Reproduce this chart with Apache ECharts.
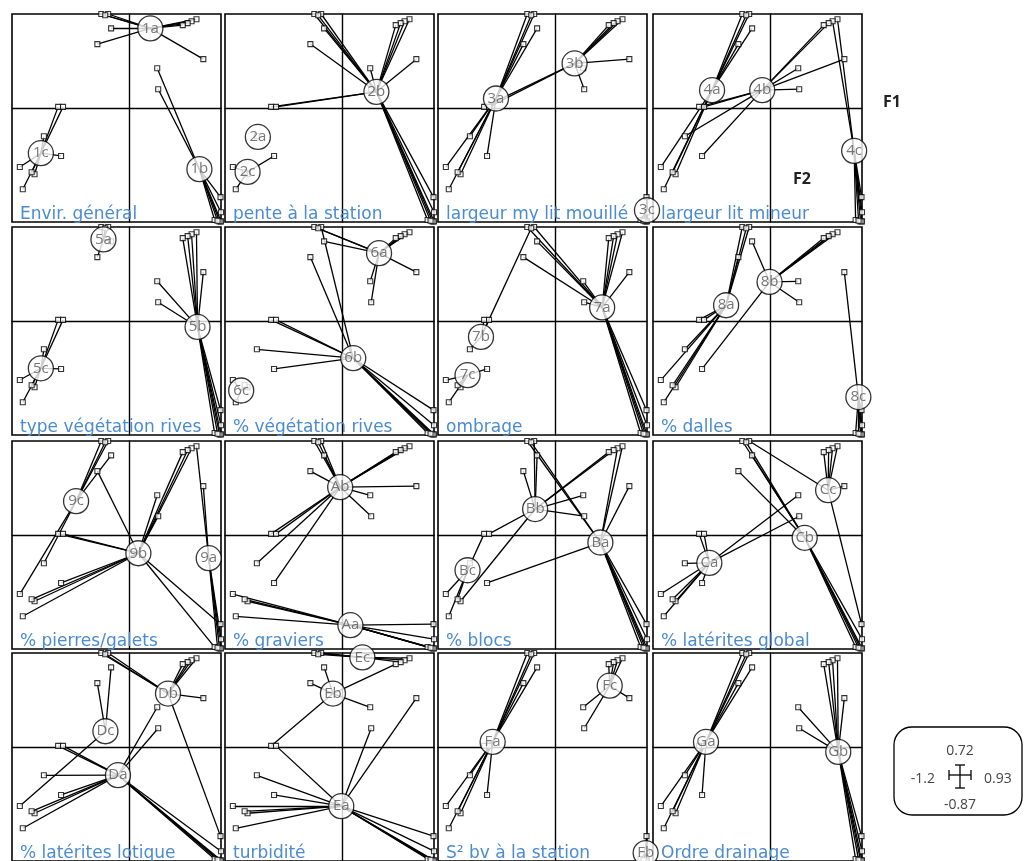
<!DOCTYPE html>
<html>
<head>
<meta charset="utf-8">
<script src="https://cdn.jsdelivr.net/npm/echarts@6/dist/echarts.min.js"></script>
<style>
html, body { margin: 0; background: #fff; }
#chart { width: 1029px; height: 861px; }
</style>
</head>
<body>
<div id="chart"></div>
<script>
// axis limits (F1 horizontal, F2 vertical)
const xRange = [-1.2, 0.93]
const yRange = [-0.87, 0.72]

// site scores on F1 / F2 (same sites in every panel)
const siteX = [-0.29, -0.22, -0.25, -0.19, -0.33,
  0.68, 0.63, 0.59, 0.54, 0.75, 0.28, 0.29,
  -0.73, -0.68, -0.875, -0.70, -1.12, -0.97, -1.0, -1.09,
  0.925, 0.865, 0.93, 0.915, 0.895, 0.93]
const siteY = [0.72, 0.72, 0.71, 0.61, 0.49,
  0.68, 0.665, 0.65, 0.635, 0.375, 0.305, 0.145,
  0.01, 0.01, -0.215, -0.365, -0.45, -0.505, -0.49, -0.62,
  -0.68, -0.855, -0.865, -0.865, -0.86, -0.795]

const titles = ['Envir. général', 'pente à la station', 'largeur my lit mouillé', 'largeur lit mineur',
  'type végétation rives', '% végétation rives', 'ombrage', '% dalles',
  '% pierres/galets', '% graviers', '% blocs', '% latérites global',
  '% latérites lotique', 'turbidité', 'S² bv à la station', 'Ordre drainage']

// class centroids per panel
const groupNames = [['1a', '1b', '1c'], ['2a', '2b', '2c'], ['3a', '3b', '3c'], ['4a', '4b', '4c'],
  ['5a', '5b', '5c'], ['6a', '6b', '6c'], ['7a', '7b', '7c'], ['8a', '8b', '8c'],
  ['9a', '9b', '9c'], ['Aa', 'Ab'], ['Ba', 'Bb', 'Bc'], ['Ca', 'Cb', 'Cc'],
  ['Da', 'Db', 'Dc'], ['Ea', 'Eb', 'Ec'], ['Fa', 'Fb', 'Fc'], ['Ga', 'Gb']]
const groupX = [[0.21, 0.71, -0.906], [-0.865, 0.343, -0.97], [-0.609, 0.192, 0.93], [-0.598, -0.087, 0.85],
  [-0.268, 0.691, -0.906], [0.37, 0.107, -1.035], [0.473, -0.762, -0.899], [-0.455, -0.012, 0.893],
  [0.805, 0.088, -0.547], [0.078, -0.026], [0.455, -0.21, -0.899], [-0.626, 0.346, 0.585],
  [-0.12, 0.39, -0.248], [-0.015, -0.1, 0.2], [-0.643, 0.916, 0.55], [-0.66, 0.688]]
const groupY = [[0.61, -0.466, -0.344], [-0.22, 0.125, -0.487], [0.074, 0.342, -0.78], [0.138, 0.138, -0.326],
  [0.625, -0.044, -0.36], [0.52, -0.283, -0.53], [0.105, -0.12, -0.413], [0.122, 0.30, -0.58],
  [-0.176, -0.138, 0.26], [-0.688, 0.367], [-0.056, 0.2, -0.268], [-0.212, -0.02, 0.344],
  [-0.214, 0.41, 0.122], [-0.451, 0.41, 0.686], [0.04, -0.81, 0.47], [0.04, -0.036]]

// class of each site in each panel (last letter of the class name)
const membership = [
  'aaaaa' + 'aaaaabb' + 'cccccccc' + 'bbbbbb',
  'bbbbb' + 'bbbbbbb' + 'bbaccccc' + 'bbbbbb',
  'aaaaa' + 'bbbbbbb' + 'bbaaaaaa' + 'cccccc',
  'aaaaa' + 'ccbbbbb' + 'bbbbaaaa' + 'cccccc',
  'aaaaa' + 'bbbbbbb' + 'cccccccc' + 'bbbbbb',
  'abaab' + 'aaaaaaa' + 'bbbbcccc' + 'bbbbbb',
  'aabaa' + 'aaaaaaa' + 'bbbccccc' + 'aaaaaa',
  'aaaba' + 'bbbbcbb' + 'aaabaaaa' + 'cccccc',
  'ccccb' + 'abbbabb' + 'bbcbcbbb' + 'bbaaaa',
  'bbbbb' + 'bbbbbbb' + 'bbbbaaaa' + 'aaaaaa',
  'ababb' + 'aabbabb' + 'cbcacbcc' + 'aaaaaa',
  'bcbbb' + 'cccccaa' + 'aaaaaaaa' + 'cbbbbb',
  'bbbcc' + 'bbbbbaa' + 'aaaacaaa' + 'baaaaa',
  'cccbb' + 'cccbaba' + 'baaaaaaa' + 'aaaaaa',
  'aaaaa' + 'ccccccc' + 'aaaaaaaa' + 'bbbbbb',
  'aaaaa' + 'bbbbbbb' + 'aaaaaaaa' + 'bbbbbb'
]

// scale box labels
const scaleLabels = { top: '0.72', left: '-1.2', right: '0.93', bottom: '-0.87' }

const panelLeft = [12, 225, 438, 653]
const panelTop = [14, 227, 441, 653]
const panelW = 209
const panelH = 208

const grids = []
const xAxes = []
const yAxes = []
const series = []
const titleList = []

titles.forEach((t, i) => {
  const r = Math.floor(i / 4)
  const c = i % 4
  grids.push({
    left: panelLeft[c], top: panelTop[r], width: panelW, height: panelH,
    show: true, borderColor: '#000', borderWidth: 1.6, backgroundColor: 'transparent'
  })
  const axisCommon = {
    type: 'value',
    gridIndex: i,
    axisLine: { show: true, onZero: true, lineStyle: { color: '#000', width: 1.4 } },
    axisTick: { show: false },
    axisLabel: { show: false },
    splitLine: { show: false }
  }
  xAxes.push(Object.assign({ min: xRange[0], max: xRange[1] }, axisCommon))
  yAxes.push(Object.assign({ min: yRange[0], max: yRange[1] }, axisCommon))

  const names = groupNames[i]
  const find = (ch) => names.findIndex(n => n.slice(-1) === ch)
  const links = []
  const pts = []
  siteX.forEach((x, k) => {
    const g = find(membership[i][k])
    links.push({ coords: [[x, siteY[k]], [groupX[i][g], groupY[i][g]]] })
    pts.push([x, siteY[k]])
  })
  series.push({
    type: 'lines',
    coordinateSystem: 'cartesian2d',
    xAxisIndex: i,
    yAxisIndex: i,
    silent: true,
    lineStyle: { color: '#000', width: 1.3, opacity: 1 },
    data: links,
    z: 2
  })
  series.push({
    type: 'scatter',
    xAxisIndex: i,
    yAxisIndex: i,
    symbol: 'rect',
    symbolSize: 5,
    silent: true,
    itemStyle: { color: '#fff', borderColor: '#000', borderWidth: 1.1 },
    data: pts,
    z: 3
  })
  series.push({
    type: 'scatter',
    xAxisIndex: i,
    yAxisIndex: i,
    symbol: 'circle',
    symbolSize: 25,
    clip: false,
    silent: true,
    itemStyle: { color: '#fff', borderColor: '#000', borderWidth: 1.3 },
    label: {
      show: true,
      position: 'inside',
      color: '#555',
      fontSize: 15,
      fontFamily: 'Open Sans',
      formatter: (p) => p.data[2]
    },
    data: names.map((n, g) => [groupX[i][g], groupY[i][g], n]),
    z: 4
  })
  titleList.push({
    text: t,
    left: panelLeft[c] + 8,
    top: panelTop[r] + panelH - 16,
    padding: 0,
    textStyle: { color: '#4a8bd2', fontSize: 17, fontWeight: 'normal', fontFamily: 'DejaVu Sans' }
  })
})

const grey = '#444'
const option = {
  backgroundColor: '#fff',
  animation: false,
  title: titleList,
  grid: grids,
  xAxis: xAxes,
  yAxis: yAxes,
  series: series,
  graphic: [
    { type: 'text', left: 883, top: 94, style: { text: 'F1', fontSize: 16, fontWeight: 'bold', fill: '#222', fontFamily: 'Open Sans' } },
    { type: 'text', left: 793, top: 171, style: { text: 'F2', fontSize: 16, fontWeight: 'bold', fill: '#222', fontFamily: 'Open Sans' } },
    { type: 'rect', shape: { x: 894, y: 727, width: 128, height: 88, r: 18 }, style: { fill: '#fff', stroke: '#000', lineWidth: 1.3 } },
    { type: 'text', x: 960, y: 751, style: { text: scaleLabels.top, fontSize: 14, fill: grey, align: 'center', verticalAlign: 'middle', fontFamily: 'Open Sans' } },
    { type: 'text', x: 935, y: 779, style: { text: scaleLabels.left, fontSize: 14, fill: grey, align: 'right', verticalAlign: 'middle', fontFamily: 'Open Sans' } },
    { type: 'text', x: 984, y: 779, style: { text: scaleLabels.right, fontSize: 14, fill: grey, align: 'left', verticalAlign: 'middle', fontFamily: 'Open Sans' } },
    { type: 'text', x: 960, y: 805, style: { text: scaleLabels.bottom, fontSize: 14, fill: grey, align: 'center', verticalAlign: 'middle', fontFamily: 'Open Sans' } },
    { type: 'polyline', shape: { points: [[949, 775], [971, 775]] }, style: { stroke: '#000', lineWidth: 1.3 } },
    { type: 'polyline', shape: { points: [[949, 770], [949, 780]] }, style: { stroke: '#000', lineWidth: 1.3 } },
    { type: 'polyline', shape: { points: [[971, 770], [971, 780]] }, style: { stroke: '#000', lineWidth: 1.3 } },
    { type: 'polyline', shape: { points: [[960, 765], [960, 788]] }, style: { stroke: '#000', lineWidth: 1.3 } },
    { type: 'polyline', shape: { points: [[955, 765], [965, 765]] }, style: { stroke: '#000', lineWidth: 1.3 } },
    { type: 'polyline', shape: { points: [[955, 788], [965, 788]] }, style: { stroke: '#000', lineWidth: 1.3 } }
  ]
}

const myChart = echarts.init(document.getElementById('chart'))
myChart.setOption(option)
window.onresize = myChart.resize
</script>
</body>
</html>
